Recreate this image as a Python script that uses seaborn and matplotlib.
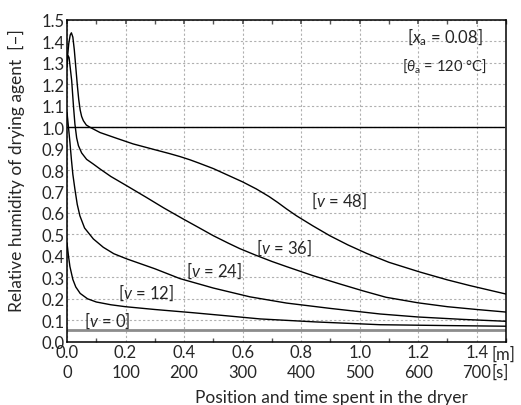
import numpy as np
import pandas as pd
import matplotlib
matplotlib.use("Agg")
import matplotlib.pyplot as plt
import seaborn as sns
from matplotlib.ticker import MultipleLocator

# Position along the dryer [m] and relative humidity [-] for each curve
x_v48 = [0.0, 0.006, 0.011, 0.015, 0.02, 0.025, 0.03, 0.035, 0.04, 0.045, 0.05, 0.056, 0.066, 0.078,
         0.113, 0.17, 0.226, 0.3, 0.35, 0.386, 0.42, 0.45, 0.5, 0.55, 0.6, 0.647, 0.69, 0.72, 0.75,
         0.784, 0.84, 0.898, 0.96, 1.023, 1.1, 1.205, 1.3, 1.375, 1.5]
y_v48 = [1.30, 1.39, 1.43, 1.44, 1.42, 1.36, 1.28, 1.20, 1.13, 1.08, 1.05, 1.03, 1.01, 1.0,
         0.975, 0.948, 0.922, 0.895, 0.877, 0.863, 0.848, 0.833, 0.807, 0.776, 0.745, 0.712, 0.677,
         0.649, 0.619, 0.587, 0.54, 0.494, 0.451, 0.412, 0.37, 0.325, 0.288, 0.262, 0.222]

x_v36 = [0.0, 0.002, 0.004, 0.007, 0.01, 0.016, 0.022, 0.027, 0.033, 0.039, 0.05, 0.067, 0.09,
         0.113, 0.15, 0.204, 0.272, 0.33, 0.397, 0.45, 0.5, 0.55, 0.59, 0.647, 0.7, 0.75, 0.84,
         0.93, 1.011, 1.09, 1.2, 1.3, 1.4, 1.5]
y_v36 = [1.28, 1.32, 1.333, 1.325, 1.29, 1.217, 1.10, 1.015, 0.95, 0.914, 0.88, 0.85, 0.828,
         0.805, 0.77, 0.727, 0.672, 0.624, 0.572, 0.532, 0.494, 0.46, 0.434, 0.402, 0.374, 0.35,
         0.308, 0.27, 0.237, 0.207, 0.181, 0.163, 0.15, 0.138]

x_v24 = [0.0, 0.005, 0.01, 0.015, 0.02, 0.027, 0.035, 0.044, 0.06, 0.09, 0.124, 0.16, 0.204,
         0.3, 0.386, 0.5, 0.625, 0.75, 0.9, 1.07, 1.2, 1.35, 1.5]
y_v24 = [1.07, 1.0, 0.93, 0.85, 0.78, 0.711, 0.64, 0.587, 0.53, 0.479, 0.44, 0.41, 0.386,
         0.34, 0.294, 0.25, 0.209, 0.18, 0.155, 0.129, 0.115, 0.104, 0.095]

x_v12 = [0.0, 0.005, 0.01, 0.02, 0.03, 0.045, 0.07, 0.1, 0.15, 0.2, 0.3, 0.43, 0.55, 0.66,
         0.85, 1.07, 1.3, 1.5]
y_v12 = [0.46, 0.40, 0.35, 0.29, 0.255, 0.225, 0.20, 0.185, 0.172, 0.163, 0.15, 0.135, 0.12,
         0.106, 0.092, 0.079, 0.075, 0.072]

x_v0 = [0.0, 1.5]
y_v0 = [0.056, 0.056]

saturation = 1.0

curve_names = ["0", "12", "24", "36", "48"]
curve_x = [x_v0, x_v12, x_v24, x_v36, x_v48]
curve_y = [y_v0, y_v12, y_v24, y_v36, y_v48]

# Curve labels: (text position x [m], y [-])
label_pos = {"48": (0.93, 0.663), "36": (0.741, 0.444), "24": (0.502, 0.334),
             "12": (0.27, 0.232), "0": (0.138, 0.101)}

pos_ticks = [0.0, 0.2, 0.4, 0.6, 0.8, 1.0, 1.2, 1.4]
time_ticks = [0, 100, 200, 300, 400, 500, 600, 700]

frames = [pd.DataFrame({"x": xs, "phi": ys, "v": name})
          for name, xs, ys in zip(curve_names, curve_x, curve_y)]
df = pd.concat(frames, ignore_index=True)

sns.set_theme(style="white")
plt.rcParams["font.family"] = ["Lato", "DejaVu Sans"]
plt.rcParams["mathtext.fontset"] = "custom"
plt.rcParams["mathtext.rm"] = "Lato"
plt.rcParams["mathtext.it"] = "Lato:italic"

fig = plt.figure(figsize=(5.21, 4.06), dpi=100)
ax = fig.add_axes([0.1286, 0.156, 0.8426, 0.7924])

palette = {"0": "#8c8c8c", "12": "black", "24": "black", "36": "black", "48": "black"}
sns.lineplot(data=df[df.v != "0"], x="x", y="phi", hue="v", palette=palette,
             estimator=None, sort=False, legend=False, linewidth=1.0, ax=ax)
sns.lineplot(data=df[df.v == "0"], x="x", y="phi", color=palette["0"],
             estimator=None, sort=False, legend=False, linewidth=2.0, ax=ax)
ax.axhline(saturation, color="black", linewidth=1.0, xmax=0.995, zorder=3)

ax.set_xlim(0, 1.5)
ax.set_ylim(0, 1.5)
ax.set_xticks(pos_ticks)
ax.set_xticklabels([f"{m:.1f}\n{s}" for m, s in zip(pos_ticks, time_ticks)],
                   fontsize=12, linespacing=1.3)
ax.xaxis.set_minor_locator(MultipleLocator(0.1))
ax.set_yticks(np.arange(0, 1.51, 0.1))
ax.set_yticklabels([f"{t:.1f}" for t in np.arange(0, 1.51, 0.1)], fontsize=12)
ax.tick_params(axis="x", which="major", direction="in", length=3, pad=2, top=True, color="#555555")
ax.tick_params(axis="x", which="minor", direction="in", length=3, top=True, bottom=True, color="#555555")
ax.tick_params(axis="y", which="major", direction="in", length=0, pad=2)

ax.grid(True, which="major", color="#b0b0b0", linestyle=(0, (2, 2)), linewidth=0.8)
for side in ["left", "right", "bottom", "top"]:
    ax.spines[side].set_visible(True)
    ax.spines[side].set_color("black")
    ax.spines[side].set_linewidth(1.1)

ax.set_xlabel("Position and time spent in the dryer", fontsize=12.5, labelpad=2)
ax.xaxis.set_label_coords(0.603, -0.146)
ax.set_ylabel("Relative humidity of drying agent  [–]", fontsize=12.5)
ax.yaxis.set_label_coords(-0.095, 0.535)

# Units beside the last tick labels
ax.text(1.452, -0.036, "[m]", transform=ax.get_xaxis_transform(), fontsize=12,
        ha="left", va="center", clip_on=False)
ax.text(1.452, -0.093, "[s]", transform=ax.get_xaxis_transform(), fontsize=12,
        ha="left", va="center", clip_on=False)

for name, (lx, ly) in label_pos.items():
    ax.text(lx, ly, f"[$v$ = {name}]", fontsize=12, ha="center", va="center")

ax.text(1.29, 1.423, "[$x_\\mathrm{a}$ = 0.08]", fontsize=12, ha="center", va="center")
ax.text(1.29, 1.29, "[$\\theta_\\mathrm{a}$ = 120 °C]", fontsize=10.5, ha="center", va="center")

fig.savefig("out.png", dpi=100)
